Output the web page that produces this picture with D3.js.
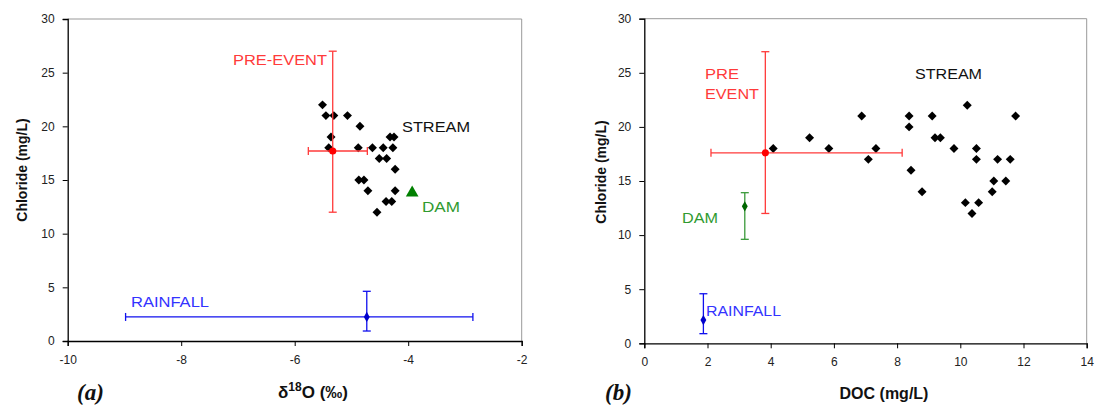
<!DOCTYPE html>
<html><head><meta charset="utf-8">
<script src="https://cdn.jsdelivr.net/npm/d3@7"></script>
<style>body{margin:0;background:#fff}svg{display:block}</style>
</head><body>
<svg id="c" width="1096" height="405"></svg>
<script>
// ---- data ----
const yTicks = [0,5,10,15,20,25,30];
const xTicksA = [-10,-8,-6,-4,-2];
const xTicksB = [0,2,4,6,8,10,12,14];

// panel (a): stream samples d18O vs chloride
const streamD18O = [-5.51,-5.45,-5.31,-5.07,-4.85,-4.32,-4.25,-5.36,-5.40,-4.88,-4.63,-4.44,-4.27,-4.51,-4.38,-4.23,-4.87,-4.78,-4.71,-4.23,-4.39,-4.29,-4.55];
const streamClA  = [22,21,21,21,20,19,19,19,18,18,18,18,18,17,17,16,15,15,14,14,13,13,12];
// panel (b): stream samples DOC vs chloride
const streamDOC = [4.08,5.23,5.84,6.88,7.09,7.33,8.38,8.38,8.44,8.79,9.11,9.20,9.37,9.80,10.22,10.16,10.37,10.51,10.51,10.58,11.01,11.06,11.18,11.44,11.58,11.75];
const streamClB = [18,19,18,21,17,18,21,20,16,14,21,19,19,18,22,13,12,18,17,13,14,15,17,15,17,21];

// end members: [name, x, y, xLow, xHigh, yLow, yHigh]
const endA = [
  ["PRE-EVENT", -5.33, 17.7, -5.76, -4.72, 12.0, 27.0],
  ["RAINFALL",  -4.73, 2.24, -8.98, -2.86, 0.93, 4.63]
];
const damA = [-3.93, 13.9];
const endB = [
  ["PRE-EVENT", 3.83, 17.6, 2.11, 8.16, 12.0, 26.95],
  ["DAM",       3.18, 12.66, null, null, 9.61, 13.92],
  ["RAINFALL",  1.87, 2.15, null, null, 0.89, 4.58]
];

// ---- drawing ----
const svg = d3.select("#c");
const RED = "#ff3a3a", BLUE = "#1010ee", GREEN = "#2f9a2f";

function panel(xDom, xRange, yRange, xTicks) {
  const x = d3.scaleLinear().domain(xDom).range(xRange);
  const y = d3.scaleLinear().domain([0,30]).range(yRange);
  const g = svg.append("g");
  g.append("line").attr("x1",xRange[0]).attr("x2",xRange[1]).attr("y1",yRange[1]).attr("y2",yRange[1]).attr("stroke","#999");
  g.append("line").attr("x1",xRange[1]).attr("x2",xRange[1]).attr("y1",yRange[0]).attr("y2",yRange[1]).attr("stroke","#999");
  const fmt = d => String(d);
  const ya = g.append("g").attr("transform",`translate(${xRange[0]},0)`)
    .call(d3.axisLeft(y).tickValues(yTicks).tickSize(5).tickPadding(8).tickFormat(fmt));
  const xa = g.append("g").attr("transform",`translate(0,${yRange[0]})`)
    .call(d3.axisBottom(x).tickValues(xTicks).tickSize(5).tickPadding(9).tickFormat(fmt));
  [ya,xa].forEach(a=>{
    a.select(".domain").attr("stroke","#000").attr("stroke-width",1.3);
    a.selectAll(".tick line").attr("stroke","#000");
    a.selectAll("text").attr("font-family","Liberation Sans, Arial, sans-serif").attr("font-size",12).attr("fill","#222");
  });
  return {x,y,g};
}

function errBars(p, color, cx, cy, xl, xh, yl, yh) {
  const g = p.g.append("g").attr("stroke",color).attr("stroke-width",1.3).attr("fill","none");
  if (xl !== null) {
    g.append("line").attr("x1",p.x(xl)).attr("x2",p.x(xh)).attr("y1",p.y(cy)).attr("y2",p.y(cy));
    [xl,xh].forEach(v=>g.append("line").attr("x1",p.x(v)).attr("x2",p.x(v)).attr("y1",p.y(cy)-4).attr("y2",p.y(cy)+4));
  }
  g.append("line").attr("x1",p.x(cx)).attr("x2",p.x(cx)).attr("y1",p.y(yl)).attr("y2",p.y(yh));
  [yl,yh].forEach(v=>g.append("line").attr("x1",p.x(cx)-4).attr("x2",p.x(cx)+4).attr("y1",p.y(v)).attr("y2",p.y(v)));
}

function diamonds(p, xs, ys) {
  p.g.append("g").selectAll("path").data(xs).join("path")
    .attr("d", d3.symbol(d3.symbolSquare, 40)())
    .attr("transform",(d,i)=>`translate(${p.x(d)},${p.y(ys[i])}) rotate(45)`)
    .attr("fill","#000");
}
function label(p, txt, x, y, color, w) {
  const t = p.g.append("text").attr("x",x).attr("y",y).text(txt)
    .attr("font-family","Liberation Sans, Arial, sans-serif").attr("font-size",14).attr("fill",color);
  if (w) t.attr("textLength",w).attr("lengthAdjust","spacingAndGlyphs");
}

// Panel (a)
const A = panel([-10,-2],[67.7,521.7],[341,19],xTicksA);
diamonds(A, streamD18O, streamClA);
errBars(A, RED, ...endA[0].slice(1));
A.g.append("circle").attr("cx",A.x(endA[0][1])).attr("cy",A.y(endA[0][2])).attr("r",3.6).attr("fill","#f00");
errBars(A, BLUE, ...endA[1].slice(1));
A.g.append("path").attr("d",d3.symbol(d3.symbolDiamond,30)()).attr("transform",`translate(${A.x(endA[1][1])},${A.y(endA[1][2])})`).attr("fill","#0000cc");
A.g.append("path").attr("d",d3.symbol(d3.symbolTriangle,70)()).attr("transform",`translate(${A.x(damA[0])},${A.y(damA[1])+1})`).attr("fill","#008000");
label(A,"PRE-EVENT",233,65,RED,94);
label(A,"STREAM",402,132,"#111",68);
label(A,"DAM",422,212,GREEN,38);
label(A,"RAINFALL",131,307,"#3333ff",78);

// Panel (b)
const B = panel([0,14],[644.3,1086.7],[343.3,18.7],xTicksB);
diamonds(B, streamDOC, streamClB);
errBars(B, RED, ...endB[0].slice(1));
B.g.append("circle").attr("cx",B.x(endB[0][1])).attr("cy",B.y(endB[0][2])).attr("r",3.6).attr("fill","#f00");
errBars(B, "#3a9a3a", ...endB[1].slice(1));
B.g.append("path").attr("d",d3.symbol(d3.symbolDiamond,30)()).attr("transform",`translate(${B.x(endB[1][1])},${B.y(endB[1][2])})`).attr("fill","#006600");
errBars(B, BLUE, ...endB[2].slice(1));
B.g.append("path").attr("d",d3.symbol(d3.symbolDiamond,30)()).attr("transform",`translate(${B.x(endB[2][1])},${B.y(endB[2][2])})`).attr("fill","#0000cc");
label(B,"PRE",705,79,RED,34);
label(B,"EVENT",705,99,RED,54);
label(B,"STREAM",915,79,"#111",67);
label(B,"DAM",682,223,GREEN,36);
label(B,"RAINFALL",706,316,"#3333ff",75);

// Axis titles
function ytitle(cx, cy) {
  svg.append("text").attr("transform",`translate(${cx},${cy}) rotate(-90)`).attr("text-anchor","middle")
    .attr("font-family","Liberation Sans, Arial, sans-serif").attr("font-weight","bold").attr("font-size",14)
    .attr("fill","#111").text("Chloride (mg/L)");
}
ytitle(27,170); ytitle(606,172);
const xt = svg.append("text").attr("x",313).attr("y",398).attr("text-anchor","middle")
  .attr("font-family","Liberation Sans, Arial, sans-serif").attr("font-weight","bold").attr("font-size",17).attr("fill","#111");
xt.append("tspan").text("δ");
xt.append("tspan").attr("dy",-7).attr("font-size",12).text("18");
xt.append("tspan").attr("dy",7).text("O (‰)");
svg.append("text").attr("x",884).attr("y",399).attr("text-anchor","middle")
  .attr("font-family","Liberation Sans, Arial, sans-serif").attr("font-weight","bold").attr("font-size",16).attr("fill","#111").text("DOC (mg/L)");
[["(a)",77],["(b)",605]].forEach(([t,x])=>svg.append("text").attr("x",x).attr("y",400)
  .attr("font-family","Liberation Serif, Times New Roman, serif").attr("font-weight","bold").attr("font-style","italic")
  .attr("font-size",23).attr("fill","#111").text(t));
</script>
</body></html>
